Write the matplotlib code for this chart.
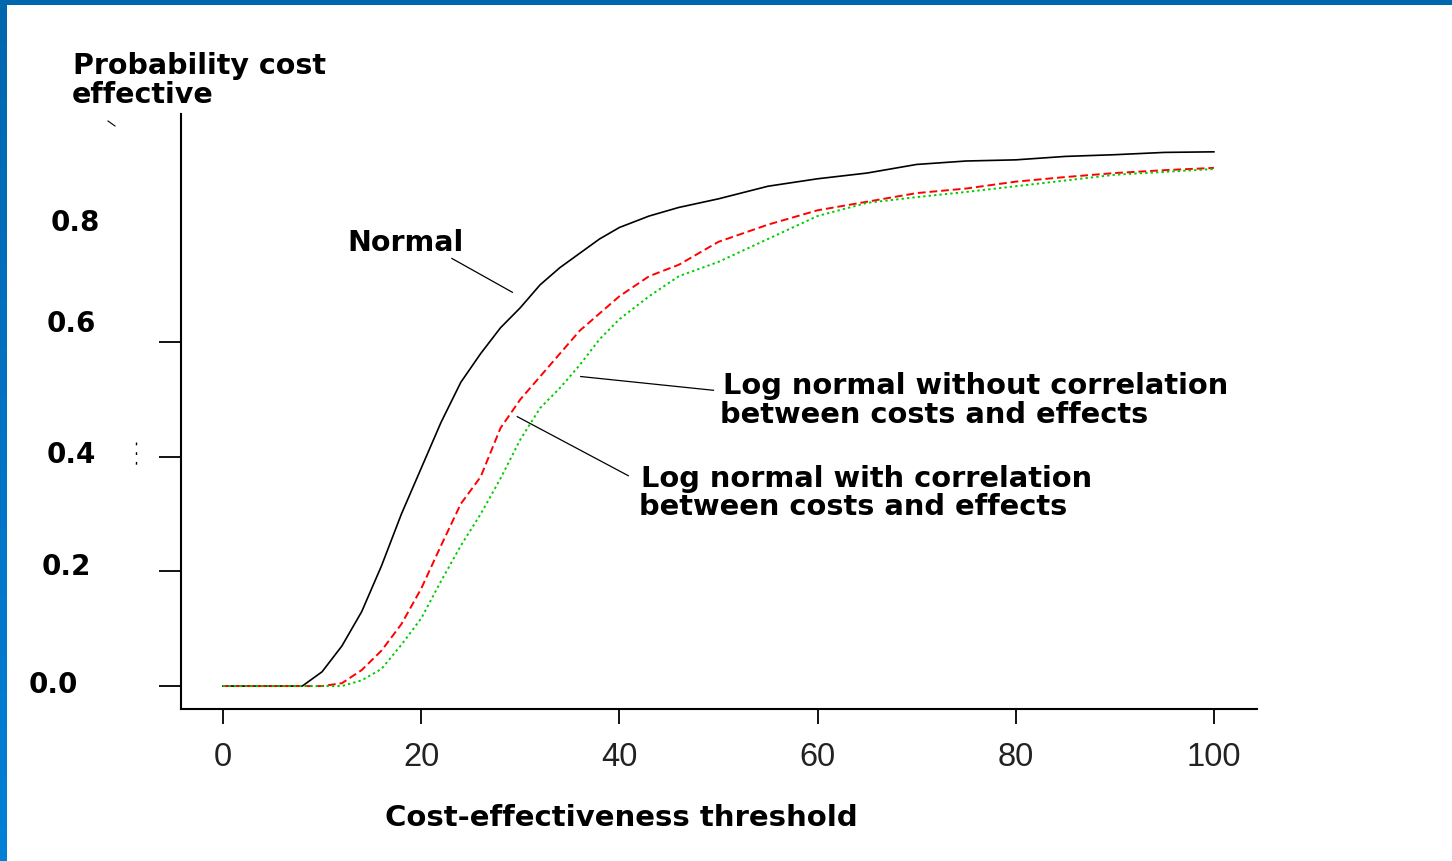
import numpy as np
import matplotlib
matplotlib.use("Agg")
import matplotlib.pyplot as plt
from matplotlib.lines import Line2D

# threshold values (x) and probability cost effective for each method
threshold = [0, 5, 8, 10, 12, 14, 16, 18, 20, 22, 24, 26, 28, 30, 32, 34, 36, 38, 40,
             43, 46, 50, 55, 60, 65, 70, 75, 80, 85, 90, 95, 100]
p_normal = [0, 0, 0, 0.025, 0.07, 0.13, 0.21, 0.30, 0.38, 0.46, 0.53, 0.58, 0.625, 0.66,
            0.70, 0.73, 0.755, 0.78, 0.80, 0.82, 0.835, 0.85, 0.872, 0.885, 0.895, 0.91,
            0.916, 0.918, 0.924, 0.927, 0.931, 0.932]
p_lognorm_corr = [0, 0, 0, 0, 0.005, 0.028, 0.062, 0.108, 0.17, 0.245, 0.318, 0.365, 0.45,
                  0.50, 0.54, 0.58, 0.62, 0.65, 0.68, 0.715, 0.735, 0.775, 0.805, 0.83,
                  0.845, 0.86, 0.868, 0.88, 0.888, 0.895, 0.90, 0.904]
p_lognorm_nocorr = [0, 0, 0, 0, 0, 0.01, 0.03, 0.072, 0.118, 0.183, 0.245, 0.30, 0.362,
                    0.43, 0.485, 0.52, 0.56, 0.605, 0.64, 0.68, 0.715, 0.74, 0.78, 0.82,
                    0.843, 0.853, 0.862, 0.872, 0.882, 0.892, 0.897, 0.902]

xtick_vals = [0, 20, 40, 60, 80, 100]
ytick_marks = [0.0, 0.2, 0.4, 0.6]
ytick_text = ["0.8", "0.6", "0.4", "0.2", "0.0"]

W, H = 1452, 862
fig = plt.figure(figsize=(W / 100, H / 100), dpi=100)
fig.patch.set_facecolor("white")


def fx(px):
    return px / W


def fy(py):
    return 1 - py / H


ax = fig.add_axes([fx(181), fy(710), (1257 - 181) / W, (710 - 115) / H])
ax.plot(threshold, p_normal, color="black", lw=1.2)
ax.plot(threshold, p_lognorm_corr, color="#ff0000", lw=1.4, ls=(0, (4, 2)))
ax.plot(threshold, p_lognorm_nocorr, color="#00cc00", lw=1.4, ls=(0, (1.2, 1.6)))

ax.set_xlim(-4.24, 104.35)
ax.set_ylim(-0.040, 0.998)
for s in ["top", "right"]:
    ax.spines[s].set_visible(False)
for s in ["left", "bottom"]:
    ax.spines[s].set_linewidth(1.5)

ax.set_xticks(xtick_vals)
ax.set_xticklabels([str(v) for v in xtick_vals], fontsize=23.5,
                   family=["Liberation Sans", "DejaVu Sans"], color="#222222")
ax.tick_params(axis="x", length=11, width=1.3, pad=12)
ax.set_yticks(ytick_marks)
ax.set_yticklabels([])
ax.tick_params(axis="y", length=16, width=1.3)

bold = dict(family="DejaVu Sans", weight="bold", color="black")

# y tick labels, placed by hand as on the slide
ytick_pos = [(51, 231), (47, 332), (47, 463), (42, 575), (29, 693)]
for t, (px, py) in zip(ytick_text, ytick_pos):
    fig.text(fx(px), fy(py), t, fontsize=20, ha="left", va="baseline", **bold)

fig.text(fx(73), fy(74), "Probability cost", fontsize=20.5, ha="left", va="baseline", **bold)
fig.text(fx(72), fy(103), "effective", fontsize=20.5, ha="left", va="baseline", **bold)
fig.text(fx(621), fy(826), "Cost-effectiveness threshold", fontsize=21,
         ha="center", va="baseline", **bold)

# curve labels with pointer lines
fig.text(fx(347), fy(251), "Normal", fontsize=20.5, ha="left", va="baseline", **bold)
fig.text(fx(723), fy(394), "Log normal without correlation", fontsize=20.8,
         ha="left", va="baseline", **bold)
fig.text(fx(720), fy(423), "between costs and effects", fontsize=20.8,
         ha="left", va="baseline", **bold)
fig.text(fx(641), fy(487), "Log normal with correlation", fontsize=20.8,
         ha="left", va="baseline", **bold)
fig.text(fx(639), fy(515), "between costs and effects", fontsize=20.8,
         ha="left", va="baseline", **bold)

ax.plot([23.1, 29.2], [0.746, 0.687], color="black", lw=0.9)
ax.plot([36.1, 49.5], [0.540, 0.516], color="black", lw=0.9)
ax.plot([29.7, 40.9], [0.470, 0.367], color="black", lw=0.9)

# small stray marks on the slide
fig.add_artist(Line2D([fx(108), fx(115)], [fy(122), fy(127)], color="black", lw=0.8))
fig.add_artist(Line2D([fx(136), fx(136)], [fy(443), fy(470)], color="black", lw=1.0,
                      ls=(0, (2, 5))))

# slide border: blue bar on top and a gradient bar on the left
top = fig.add_axes([0, fy(6), 1, 6 / H])
top.set_facecolor("#0066ae")
top.set_xticks([])
top.set_yticks([])
for s in top.spines.values():
    s.set_visible(False)

left = fig.add_axes([0, 0, 7 / W, 1])
grad = np.linspace(0, 1, 256).reshape(-1, 1)
cmap = matplotlib.colors.LinearSegmentedColormap.from_list("bar", ["#0066ae", "#0080d8"])
left.imshow(grad, aspect="auto", cmap=cmap)
left.axis("off")

fig.savefig("out.png", dpi=100)
